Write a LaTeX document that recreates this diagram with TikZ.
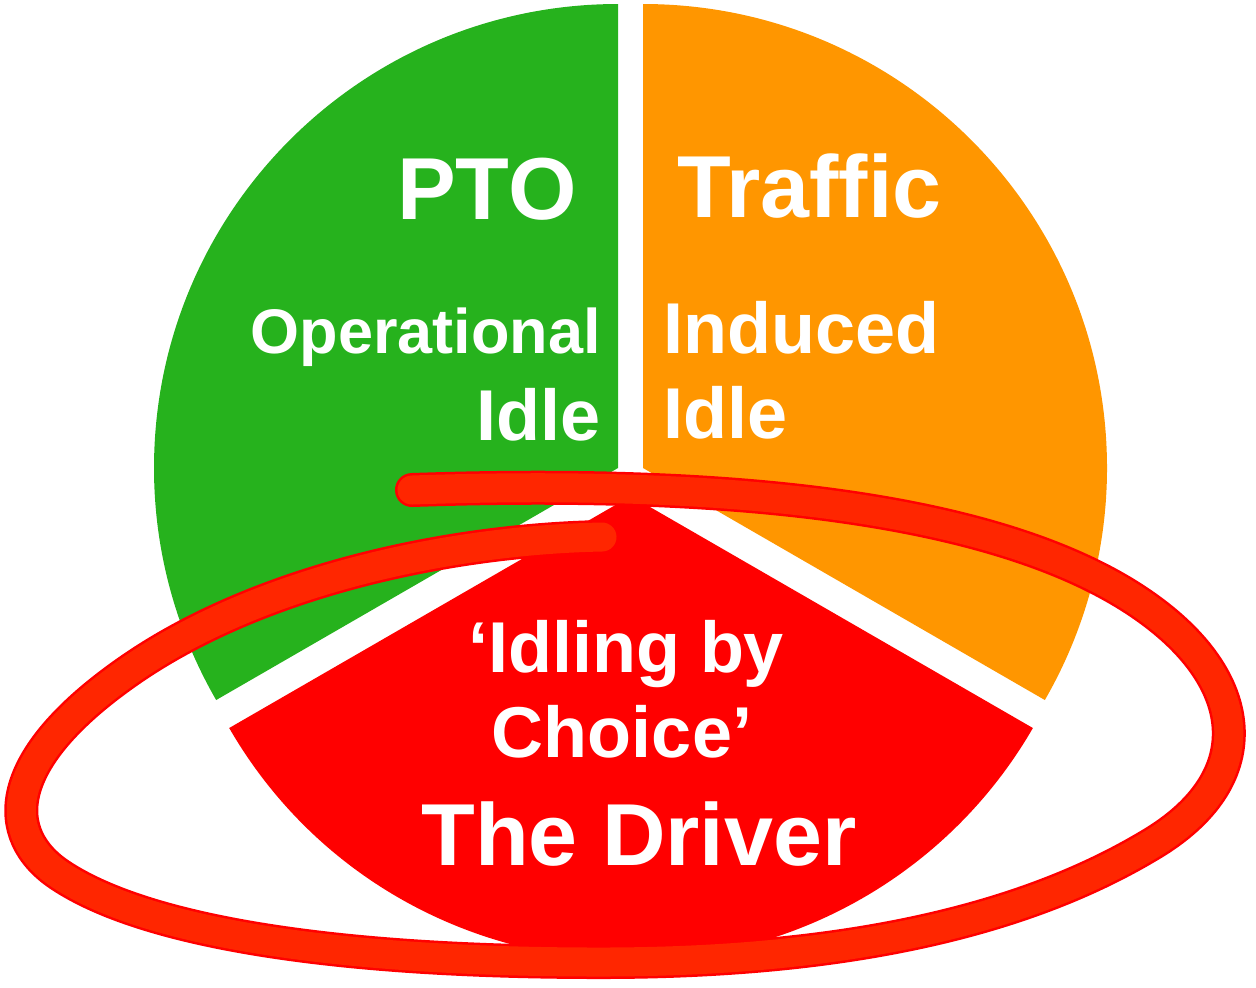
\documentclass[tikz,border=0pt]{standalone}
\usepackage{fontspec}
\setmainfont{Liberation Sans}
\definecolor{slicegreen}{RGB}{38,178,29}
\definecolor{sliceorange}{RGB}{255,150,0}
\definecolor{slicered}{RGB}{255,0,0}
\definecolor{markred}{RGB}{255,38,0}
\begin{document}
\begin{tikzpicture}[x=0.5pt,y=-0.5pt,
  lbl/.style={text=white,font=\bfseries,inner sep=0pt},
  big/.style={font=\fontsize{44}{48}\bfseries\selectfont},
  mid/.style={font=\fontsize{36}{40}\bfseries\selectfont},
  small/.style={font=\fontsize{31.5}{35}\bfseries\selectfont},
  markedge/.style={draw=slicered,line width=17pt,line cap=round,line join=round},
  markcore/.style={draw=markred,line width=14.5pt,line cap=round,line join=round}]
\useasboundingbox (0,0) rectangle (1256,987);

% three pie slices, the bottom one pulled out
\fill[slicegreen] (618,468) -- ++(0,-464) arc[start angle=90,end angle=210,radius=232pt] -- cycle;
\fill[sliceorange] (643,468) -- ++(0,-464) arc[start angle=90,end angle=-30,radius=232pt] -- cycle;
\fill[slicered] (631,496) -- (229.2,728) arc[start angle=210,end angle=330,radius=232pt] -- cycle;

% slice labels
\node[lbl,big,anchor=base east] (pto) at (577,219) {PTO};
\node[lbl,small,anchor=base east] (oper) at (601,353) {Operational};
\node[lbl,mid,anchor=base east] (idleg) at (601,440) {Idle};
\node[lbl,big,anchor=base west] (traffic) at (677,217) {Traffic};
\node[lbl,mid,anchor=base west] (induced) at (663,353) {Induced};
\node[lbl,mid,anchor=base west] (idleo) at (663,438) {Idle};
\node[lbl,mid,anchor=base] (idling) at (626,672) {‘Idling by};
\node[lbl,mid,anchor=base] (choice) at (622,757) {Choice’};
\node[lbl,big,anchor=base] (driver) at (639,865) {The Driver};

% hand-drawn loop around the bottom slice
\foreach \st in {markedge,markcore}{
\draw[\st] (412,490)
  .. controls (700,480) and (1000,500) .. (1150,610)
  .. controls (1250,683) and (1260,780) .. (1150,845)
  .. controls (1000,935) and (800,962) .. (600,962)
  .. controls (350,962) and (150,935) .. (60,875)
  .. controls (0,835) and (0,760) .. (130,670)
  .. controls (260,580) and (450,540) .. (602,537);
}
\end{tikzpicture}
\end{document}
